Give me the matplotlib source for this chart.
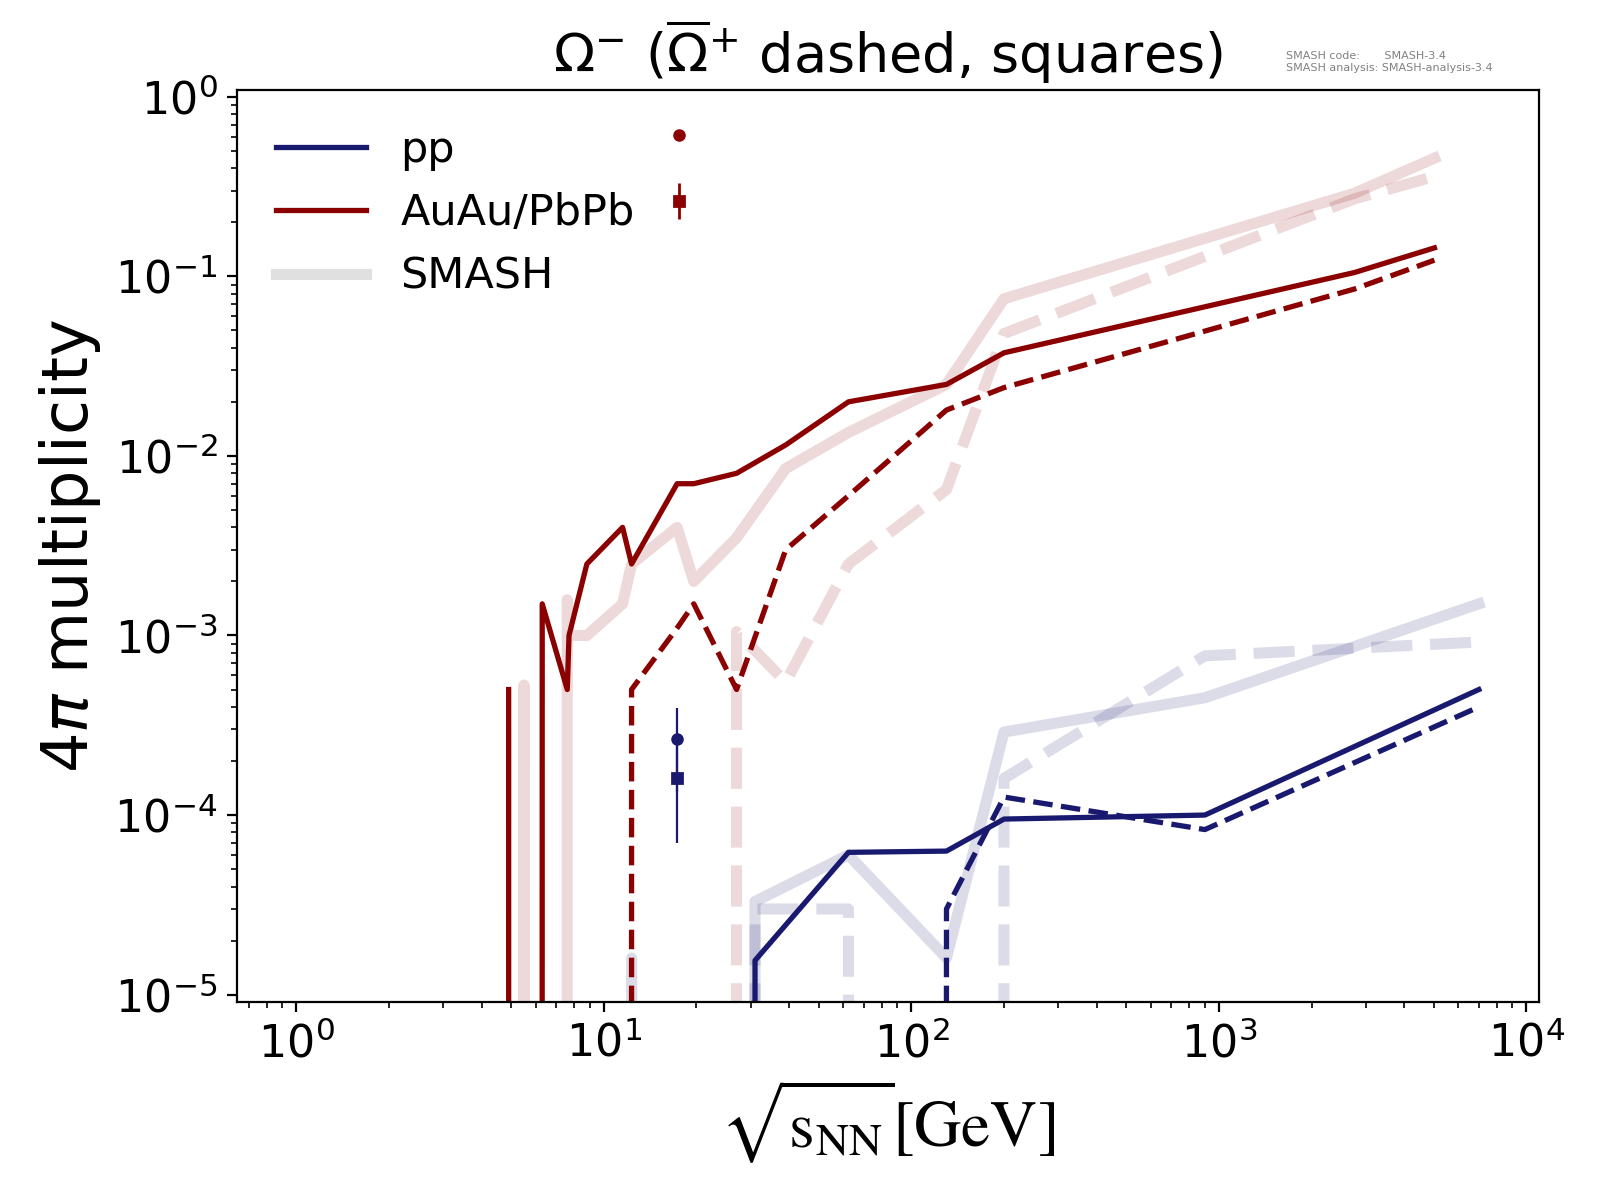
import matplotlib.pyplot as plt
from matplotlib.lines import Line2D
from matplotlib.legend_handler import HandlerTuple

# sqrt(s_NN) in GeV
energy_AA = [4.9, 5.5, 6.3, 7.6, 7.7, 8.8, 11.5, 12.3, 17.3, 19.6, 27, 39, 62.4, 130, 200, 2760, 5020]
energy_pp = [11.5, 12.3, 17.3, 27, 31, 62.4, 130, 200, 900, 7000]

# 4pi multiplicities (0 = no value, drops off the log axis)
data_AA_omega = [5e-4, 0, 1.5e-3, 5e-4, 1.0e-3, 2.5e-3, 4.0e-3, 2.5e-3, 7.0e-3, 7.0e-3,
                 8.0e-3, 1.15e-2, 2.0e-2, 2.5e-2, 3.75e-2, 0.105, 0.144]
data_AA_anti = [0, 0, 0, 0, 0, 0, 0, 5e-4, 1.1e-3, 1.5e-3,
                5e-4, 3.0e-3, 6.0e-3, 1.8e-2, 2.4e-2, 8.5e-2, 0.123]
smash_AA_omega = [0, 5.3e-4, 0, 1.58e-3, 1.0e-3, 1.0e-3, 1.5e-3, 2.5e-3, 4.0e-3, 2.0e-3,
                  3.5e-3, 8.5e-3, 1.35e-2, 2.5e-2, 7.5e-2, 0.29, 0.455]
smash_AA_anti = [0, 0, 0, 0, 0, 0, 0, 0, 0, 0,
                 1.05e-3, 5.5e-4, 2.5e-3, 6.5e-3, 4.8e-2, 0.27, 0.36]

data_pp_omega = [0, 0, 0, 0, 1.55e-5, 6.2e-5, 6.3e-5, 9.5e-5, 1.0e-4, 5.0e-4]
data_pp_anti = [0, 0, 0, 0, 0, 0, 3.0e-5, 1.26e-4, 8.3e-5, 4.0e-4]
smash_pp_omega = [0, 1.6e-5, 0, 0, 3.3e-5, 6.0e-5, 1.6e-5, 2.9e-4, 4.5e-4, 1.5e-3]
smash_pp_anti = [0, 0, 0, 0, 3.0e-5, 3.0e-5, 0, 1.6e-4, 7.7e-4, 9.2e-4]

# NA49 pp point
point_x = [17.3]
point_omega = [2.65e-4]
point_omega_err = [1.3e-4]
point_anti = [1.6e-4]
point_anti_err = [9e-5]

fig, ax = plt.subplots(figsize=(8, 6), dpi=200)
fig.subplots_adjust(left=0.148, right=0.962, bottom=0.165, top=0.925)
ax.set_xscale('log')
ax.set_yscale('log')

sm_alpha = 0.15
ax.plot(energy_AA, smash_AA_omega, color='darkred', alpha=sm_alpha, lw=4)
ax.plot(energy_AA, smash_AA_anti, color='darkred', alpha=sm_alpha, lw=4, ls='--')
ax.plot(energy_pp, smash_pp_omega, color='midnightblue', alpha=sm_alpha, lw=4)
ax.plot(energy_pp, smash_pp_anti, color='midnightblue', alpha=sm_alpha, lw=4, ls='--')

ax.plot(energy_AA, data_AA_omega, color='darkred', lw=1.9)
ax.plot(energy_AA, data_AA_anti, color='darkred', lw=1.9, ls='--')
ax.plot(energy_pp, data_pp_omega, color='midnightblue', lw=1.9)
ax.plot(energy_pp, data_pp_anti, color='midnightblue', lw=1.9, ls='--')

ax.errorbar(point_x, point_omega, yerr=point_omega_err, fmt='o', color='midnightblue',
            ms=3.5, elinewidth=0.8)
ax.errorbar(point_x, point_anti, yerr=point_anti_err, fmt='s', color='midnightblue',
            ms=3.5, elinewidth=0.8)

ax.set_xlim(0.64, 1.1e4)
ax.set_ylim(9.1e-6, 1.09)

ax.tick_params(labelsize=16)
ax.set_title(r"$\Omega^{-}$ ($\overline{\Omega}^{+}$ dashed, squares)", fontsize=19.5)
ax.set_ylabel(r"$4\pi$ multiplicity", fontsize=23)
ax.set_xlabel(r"$\sqrt{\mathrm{s}_{\mathrm{NN}}}[\mathrm{GeV}]$", fontsize=23.5,
              math_fontfamily='stix')

lines = [Line2D([], [], color='midnightblue', lw=1.9),
         Line2D([], [], color='darkred', lw=1.9),
         Line2D([], [], color='k', alpha=0.12, lw=4)]
leg1 = ax.legend(lines, ['pp', 'AuAu/PbPb', 'SMASH'], loc='upper left', fontsize=15.5,
                 frameon=False, labelspacing=0.5, handlelength=2.1)
ax.add_artist(leg1)

circle = Line2D([], [], color='darkred', marker='o', ls='none', ms=3.5)
square = (Line2D([], [], color='darkred', marker='|', ls='none', ms=13, mew=1),
          Line2D([], [], color='darkred', marker='s', ls='none', ms=3.5))
ax.legend([circle, square], ['', ''], loc='upper left', bbox_to_anchor=(0.292, 0.99),
          borderaxespad=0, fontsize=16, frameon=False, labelspacing=0.5,
          handler_map={tuple: HandlerTuple(ndivide=1)})

fig.text(0.804, 0.9575, "SMASH code:       SMASH-3.4\nSMASH analysis: SMASH-analysis-3.4",
         fontsize=4, color='gray', va='top', ha='left')

fig.savefig('out.png')
